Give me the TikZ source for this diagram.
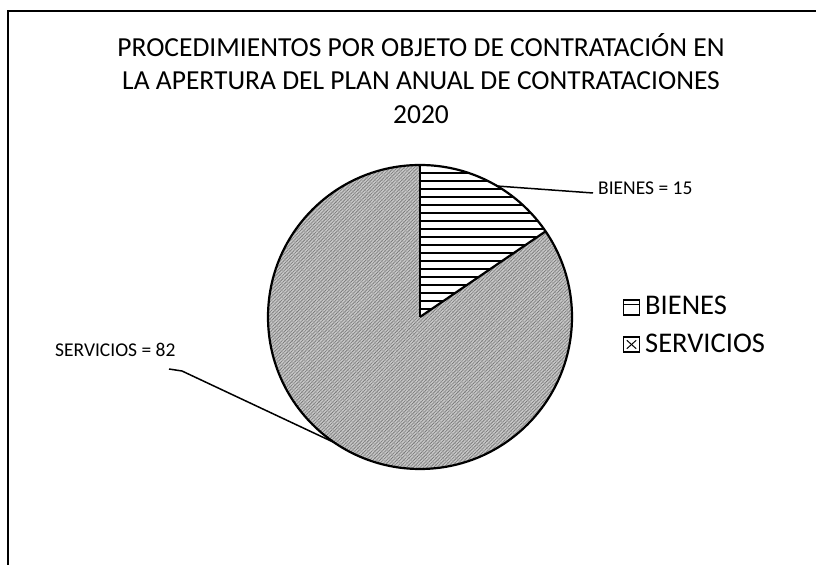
\documentclass[tikz,border=0pt]{standalone}
\usepackage{fontspec}
\setmainfont{Carlito}
\usetikzlibrary{patterns,patterns.meta,calc}
\begin{document}
\begin{tikzpicture}[x=1pt,y=1pt,
  titletext/.style={font=\fontsize{27.5}{33}\selectfont, inner sep=0, anchor=base},
  labeltext/.style={font=\fontsize{19.5}{22}\selectfont, inner sep=0, anchor=base west},
  legendtext/.style={font=\fontsize{28.5}{32}\selectfont, inner sep=0, anchor=base west},
  leader/.style={draw=black, line width=1.5pt},
  edge/.style={draw=black, line width=2.2pt},
  bienesfill/.style={pattern={Lines[angle=0,distance=8pt,line width=1.3pt]}, pattern color=black},
  serviciosfill/.style={fill=black!22},
  servhatchA/.style={pattern={Lines[angle=45,distance=2.4pt,line width=0.6pt]}, pattern color=black!55},
  servhatchB/.style={pattern={Lines[angle=-45,distance=4.8pt,line width=0.6pt]}, pattern color=black!35},
  legbox/.style={draw=black, line width=1.4pt, minimum width=16pt, minimum height=15pt, inner sep=0}
]
\useasboundingbox (0,0) rectangle (817,565);
% frame
\draw[line width=1.4pt] (8,0) -- (8,554) -- (816,554);
% title
\node[titletext] (t1) at (421,508) {PROCEDIMIENTOS POR OBJETO DE CONTRATACIÓN EN};
\node[titletext] (t2) at (421,475) {LA APERTURA DEL PLAN ANUAL DE CONTRATACIONES};
\node[titletext] (t3) at (421,441) {2020};
% pie
\coordinate (c) at (420,248);
\path[serviciosfill] (c) -- ++(34.3:152) arc[start angle=34.3, end angle=-270, radius=152] -- cycle;
\path[servhatchA] (c) -- ++(34.3:152) arc[start angle=34.3, end angle=-270, radius=152] -- cycle;
\path[servhatchB] (c) -- ++(34.3:152) arc[start angle=34.3, end angle=-270, radius=152] -- cycle;
\path[bienesfill] (c) -- ++(90:152) arc[start angle=90, end angle=34.3, radius=152] -- cycle;
\draw[edge] (c) circle[radius=152];
\draw[edge] (c) -- ++(90:152);
\draw[edge] (c) -- ++(34.3:152);
\coordinate (pb) at ($(c)+(59.5:152)$);
\coordinate (ps) at ($(c)+(235.8:152)$);
% labels
\node[labeltext] (lb) at (598,370) {BIENES = 15};
\node[labeltext] (ls) at (55,208) {SERVICIOS = 82};
\coordinate (lbend) at (593,372);
\draw[leader] (pb) -- (lbend);
\coordinate (sk) at (182,194);
\coordinate (sk2) at (169,196);
\draw[leader] (ps) -- (sk) -- (sk2);
% legend
\node[legbox] (kb) at (631.5,257.5) {};
\draw[line width=1.2pt] ([yshift=-5pt]kb.north west) -- ([yshift=-5pt]kb.north east);
\node[legendtext] (tb) at (645,250) {BIENES};
\node[legbox] (ks) at (631.5,220.5) {};
\draw[line width=1pt] ([shift={(4pt,-4pt)}]ks.north west) -- ([shift={(-4pt,4pt)}]ks.south east);
\draw[line width=1pt] ([shift={(-4pt,-4pt)}]ks.north east) -- ([shift={(4pt,4pt)}]ks.south west);
\node[legendtext] (ts) at (645,212) {SERVICIOS};
\end{tikzpicture}
\end{document}
